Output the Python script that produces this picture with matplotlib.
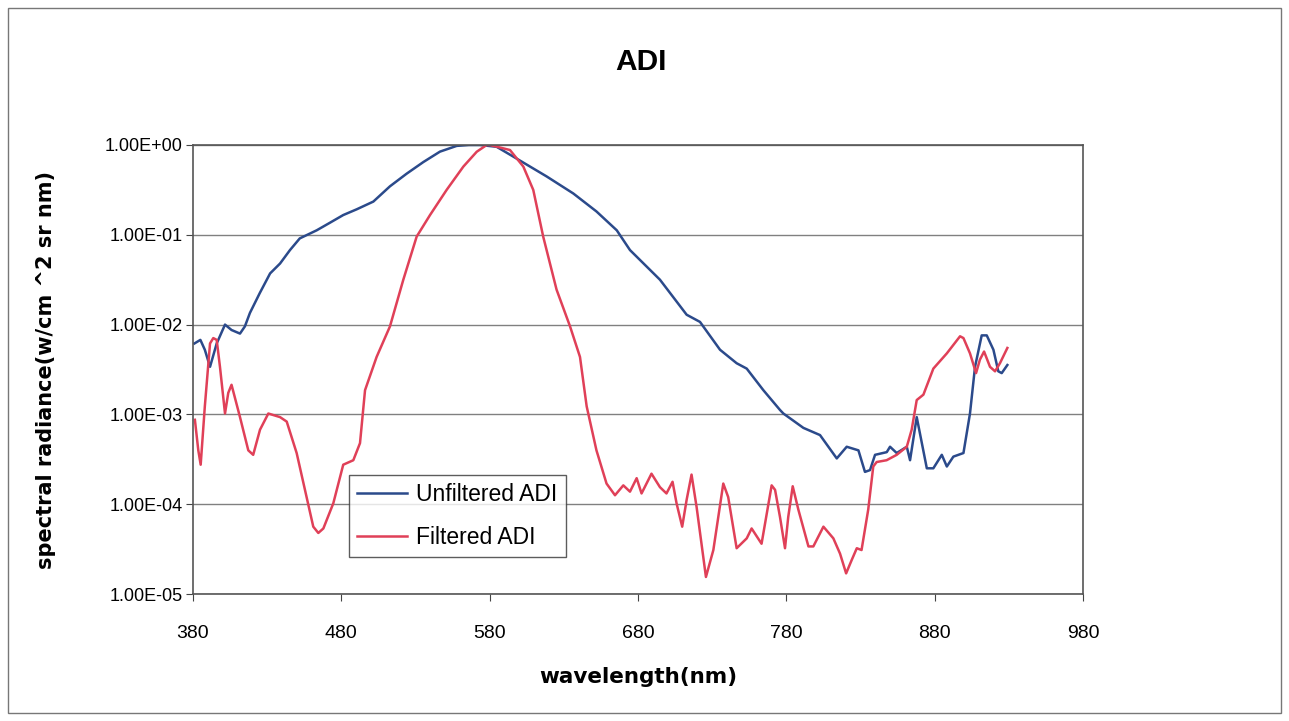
import matplotlib
matplotlib.use("Agg")
import matplotlib.pyplot as plt
from matplotlib.patches import Rectangle
import numpy as np

# wavelength (nm) and log10 of spectral radiance
wl_unfiltered = [381, 385, 388, 391.5, 396, 401.6, 406, 411.7, 415, 418.4, 425, 432, 438.7,
                 445.4, 452, 463.4, 472.4, 481.3, 490.4, 501.6, 512.8, 524, 535.3, 546.5,
                 557.8, 566, 573.5, 584.7, 596, 618.4, 636.4, 652, 665.7, 674.6, 694.8,
                 712.8, 721.8, 735.3, 746.5, 753.3, 764.5, 775.7, 778, 791.5, 802.7, 814,
                 820.7, 828.6, 833, 836.4, 839.8, 847.7, 849.9, 854.4, 861.2, 863.4, 867.9,
                 874.7, 879.1, 884.8, 888.2, 892.6, 899.4, 903.8, 907.2, 911.7, 915.1,
                 919.6, 922.9, 925.2, 929]
log_unfiltered = [-2.21, -2.17, -2.28, -2.47, -2.21, -2.00, -2.06, -2.10, -2.02, -1.87, -1.65,
                  -1.43, -1.32, -1.17, -1.04, -0.95, -0.865, -0.78, -0.716, -0.63, -0.46,
                  -0.32, -0.19, -0.074, -0.01, 0.0, 0.0, -0.02, -0.13, -0.35, -0.54, -0.74,
                  -0.95, -1.17, -1.50, -1.89, -1.97, -2.28, -2.43, -2.49, -2.73, -2.95,
                  -2.99, -3.15, -3.23, -3.49, -3.36, -3.40, -3.64, -3.62, -3.45, -3.42,
                  -3.36, -3.43, -3.36, -3.51, -3.03, -3.60, -3.60, -3.45, -3.58, -3.47,
                  -3.43, -2.99, -2.47, -2.12, -2.12, -2.28, -2.52, -2.54, -2.45]

wl_filtered = [381.3, 383.6, 385.2, 388, 391.5, 393.7, 396, 398.2, 401.6, 403.8, 406, 411.7,
               417.3, 420.6, 425.2, 430.8, 438.7, 443.2, 449.9, 455.5, 461.1, 464.5, 467.9,
               474.6, 481.3, 488.1, 492.6, 496, 503.8, 512.8, 521.8, 530.8, 539.8, 551,
               562.3, 571.3, 578, 580.2, 593.7, 602.7, 609.4, 616.1, 625.1, 634.2, 640.9,
               645.4, 652, 658.8, 664.5, 670.1, 674.6, 679.1, 682.4, 689.1, 694.8, 699.2,
               703.3, 706, 709.8, 712.8, 716.1, 719.5, 725.8, 730.8, 737.5, 740.8, 746.5,
               753.3, 756.6, 763.3, 770.1, 772.4, 775.7, 779.1, 781.3, 784.3, 788.1, 794.9,
               798.2, 805, 811.7, 816.2, 820.3, 824.1, 827.5, 830.7, 835.2, 838.6, 840.9,
               847.6, 854.4, 861.2, 864.5, 867.9, 872.4, 879.1, 888.2, 897.1, 899.4,
               903.8, 907.9, 910.5, 913.3, 917.3, 920.7, 924, 929]
log_filtered = [-3.06, -3.40, -3.56, -2.91, -2.21, -2.15, -2.17, -2.47, -2.99, -2.76, -2.67,
                -3.03, -3.40, -3.45, -3.17, -2.99, -3.03, -3.08, -3.43, -3.84, -4.25, -4.32,
                -4.27, -3.99, -3.56, -3.51, -3.32, -2.73, -2.36, -2.02, -1.50, -1.02, -0.78,
                -0.50, -0.24, -0.075, 0.0, 0.0, -0.056, -0.24, -0.50, -1.02, -1.61, -2.02,
                -2.36, -2.91, -3.40, -3.77, -3.90, -3.79, -3.86, -3.71, -3.88, -3.66,
                -3.81, -3.88, -3.75, -3.99, -4.25, -3.95, -3.67, -4.03, -4.81, -4.51,
                -3.77, -3.92, -4.49, -4.38, -4.27, -4.44, -3.79, -3.84, -4.14, -4.49,
                -4.14, -3.80, -4.06, -4.47, -4.47, -4.25, -4.38, -4.55, -4.77, -4.62,
                -4.49, -4.51, -4.06, -3.58, -3.53, -3.51, -3.45, -3.36, -3.17, -2.84,
                -2.78, -2.49, -2.32, -2.13, -2.15, -2.32, -2.54, -2.39, -2.30, -2.47,
                -2.52, -2.43, -2.26]

x_ticks = [380, 480, 580, 680, 780, 880, 980]
y_ticks = [1e-5, 1e-4, 1e-3, 1e-2, 1e-1, 1e0]
y_tick_labels = ["1.00E-05", "1.00E-04", "1.00E-03", "1.00E-02", "1.00E-01", "1.00E+00"]

plt.rcParams['font.family'] = ['Liberation Sans', 'DejaVu Sans']

fig = plt.figure(figsize=(12.89, 7.21), dpi=100)
fig.patch.set_facecolor('white')
fig.add_artist(Rectangle((8 / 1289, 8 / 721), 1273 / 1289, 705 / 721, transform=fig.transFigure,
                         fill=False, edgecolor='#777777', linewidth=1.0))

ax = fig.add_axes([0.1497, 0.1761, 0.6905, 0.6228])
ax.plot(wl_unfiltered, np.power(10.0, log_unfiltered), color='#2B4A8B', linewidth=1.8,
        label='Unfiltered ADI')
ax.plot(wl_filtered, np.power(10.0, log_filtered), color='#E04058', linewidth=1.8,
        label='Filtered ADI')

ax.set_yscale('log')
ax.set_xlim(380, 980)
ax.set_ylim(1e-5, 1e0)
ax.set_xticks(x_ticks)
ax.set_xticklabels([str(t) for t in x_ticks], fontsize=14)
ax.set_yticks(y_ticks)
ax.set_yticklabels(y_tick_labels, fontsize=13)
ax.minorticks_off()
ax.tick_params(axis='both', direction='out', length=5, color='#444444')
ax.tick_params(axis='x', pad=17)
ax.tick_params(axis='y', pad=2.5)
ax.grid(axis='y', color='#808080', linewidth=1.0)
ax.set_axisbelow(True)
for s in ax.spines.values():
    s.set_color('#555555')
    s.set_linewidth(1.2)

bold_font = ['DejaVu Sans']
ax.set_xlabel('wavelength(nm)', fontsize=15.5, fontweight='bold', family=bold_font, labelpad=18)
ax.set_ylabel('spectral radiance(w/cm ^2 sr nm)', fontsize=15, fontweight='bold',
              family=bold_font, labelpad=35)
fig.text(0.4975, 0.914, 'ADI', ha='center', va='center', fontsize=21.5, fontweight='bold')

leg = ax.legend(loc='lower left', bbox_to_anchor=(0.175, 0.083), fontsize=16.5, frameon=True,
                fancybox=False, borderpad=0.35, handlelength=2.2, labelspacing=0.85,
                handletextpad=0.4, borderaxespad=0)
leg.get_frame().set_edgecolor('#333333')
leg.get_frame().set_linewidth(1.0)

fig.savefig('out.png', dpi=100)
